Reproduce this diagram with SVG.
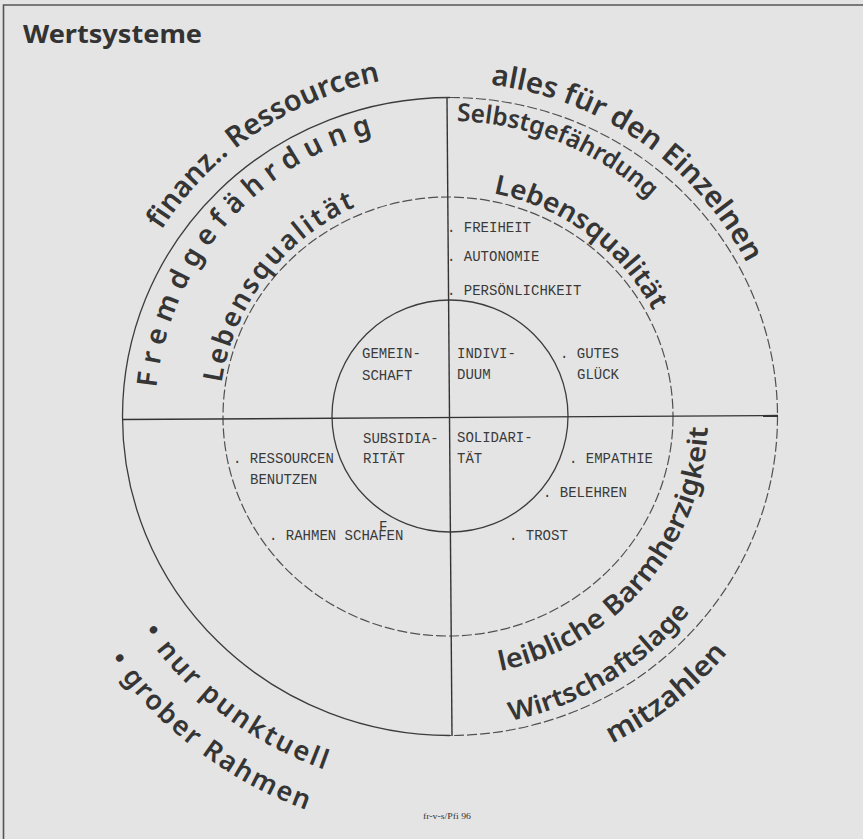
<svg xmlns="http://www.w3.org/2000/svg" xmlns:xlink="http://www.w3.org/1999/xlink" width="863" height="839" viewBox="0 0 863 839">
<style>
.bg{fill:#e4e4e4}
.frame{stroke:#555;stroke-width:1.6;fill:none}
.ring{fill:none;stroke:#3c3c3c;stroke-width:1.3}
.dash{fill:none;stroke:#505050;stroke-width:1.2;stroke-dasharray:10 3}
.axis{stroke:#333;stroke-width:1.4}
.tw{font-family:"Liberation Mono","DejaVu Sans Mono",monospace;font-size:14px;fill:#3a3a3a}
.hw{font-family:"Noto Sans","Open Sans",sans-serif;font-weight:600;fill:#353535}
.title{font-family:"Noto Sans","Open Sans",sans-serif;font-weight:700;font-size:25px;fill:#333}
.foot{font-family:"Liberation Serif",serif;font-size:9px;fill:#333}
</style>
<defs>
<path id="p-finanz" d="M161.3,230.2 A343,343 0 0 1 380.6,80.9"/>
<path id="p-fremd" d="M156.4,387.8 A294,294 0 0 1 376.4,132.1"/>
<path id="p-leben1" d="M221.6,382.6 A230,230 0 0 1 357.3,206.1"/>
<path id="p-alles" d="M490.4,84.6 A335,335 0 0 1 747.5,264.9"/>
<path id="p-selbst" d="M456.7,121.1 A296,296 0 0 1 650.9,200.5"/>
<path id="p-leben2" d="M493.3,193.3 A229,229 0 0 1 653.9,312.6"/>
<path id="p-leib" d="M500.2,670.9 A259,259 0 0 0 707.9,422.9"/>
<path id="p-wirt" d="M510.8,720.8 A310,310 0 0 0 691.6,610.0"/>
<path id="p-mitz" d="M611.9,743.6 A365,365 0 0 0 728.6,651.6"/>
<path id="p-nur" d="M142.6,631.5 A374,374 0 0 0 327.2,770.6"/>
<path id="p-grob" d="M108.7,659.7 A418,418 0 0 0 309.5,811.0"/>
</defs>
<rect class="bg" x="0" y="0" width="863" height="839"/>
<g id="frame">
<path class="frame" d="M3.5,839 V5 H863"/>
</g>
<text class="title" x="23" y="43" textLength="179" lengthAdjust="spacingAndGlyphs">Wertsysteme</text>
<g id="connectors">
<path class="ring" d="M450,97.5 A327.5,319 0 0 0 450,735.5"/>
<path class="dash" d="M450,97.5 A327.5,319 0 0 1 450,735.5"/>
<ellipse class="dash" cx="448" cy="416.5" rx="225" ry="219.5"/>
<ellipse class="ring" cx="450" cy="416" rx="118" ry="116"/>
<line class="axis" x1="447" y1="98" x2="452" y2="736"/>
<line class="axis" x1="122" y1="419.5" x2="778" y2="415.5"/>
</g>
<g id="q-top-left">
<text class="tw" x="362" y="358">GEMEIN-</text>
<text class="tw" x="362" y="380">SCHAFT</text>
<text class="hw" font-size="29"><textPath xlink:href="#p-finanz" textLength="272" lengthAdjust="spacingAndGlyphs">finanz.. Ressourcen</textPath></text>
<text class="hw" font-size="28"><textPath xlink:href="#p-fremd" textLength="355" lengthAdjust="spacing">Fremdgefährdung</textPath></text>
<text class="hw" font-size="27"><textPath xlink:href="#p-leben1" textLength="230" lengthAdjust="spacing">Lebensqualität</textPath></text>
</g>
<g id="q-top-right">
<text class="tw" x="457" y="358">INDIVI-</text>
<text class="tw" x="457" y="379">DUUM</text>
<text class="tw" x="560" y="358">. GUTES</text>
<text class="tw" x="577" y="379">GLÜCK</text>
<text class="tw" x="447" y="232">. FREIHEIT</text>
<text class="tw" x="447" y="261">. AUTONOMIE</text>
<text class="tw" x="447" y="295">. PERSÖNLICHKEIT</text>
<text class="hw" font-size="29"><textPath xlink:href="#p-alles" textLength="325" lengthAdjust="spacingAndGlyphs">alles für den Einzelnen</textPath></text>
<text class="hw" font-size="25"><textPath xlink:href="#p-selbst" textLength="212" lengthAdjust="spacingAndGlyphs">Selbstgefährdung</textPath></text>
<text class="hw" font-size="27"><textPath xlink:href="#p-leben2" textLength="205" lengthAdjust="spacingAndGlyphs">Lebensqualität</textPath></text>
</g>
<g id="q-bottom-left">
<text class="tw" x="363" y="443">SUBSIDIA-</text>
<text class="tw" x="363" y="463">RITÄT</text>
<text class="tw" x="233" y="463">. RESSOURCEN</text>
<text class="tw" x="250" y="484">BENUTZEN</text>
<text class="tw" x="269" y="540">. RAHMEN SCHAFEN</text>
<text class="tw" x="379" y="531" font-size="9px">F</text>
<text class="hw" font-size="27"><textPath xlink:href="#p-nur" textLength="232" lengthAdjust="spacing">• nur punktuell</textPath></text>
<text class="hw" font-size="27"><textPath xlink:href="#p-grob" textLength="252" lengthAdjust="spacing">• grober Rahmen</textPath></text>
</g>
<g id="q-bottom-right">
<text class="tw" x="457" y="442">SOLIDARI-</text>
<text class="tw" x="457" y="463">TÄT</text>
<text class="tw" x="569" y="463">. EMPATHIE</text>
<text class="tw" x="543" y="497">. BELEHREN</text>
<text class="tw" x="509" y="540">. TROST</text>
<text class="hw" font-size="27"><textPath xlink:href="#p-leib" textLength="345" lengthAdjust="spacingAndGlyphs">leibliche Barmherzigkeit</textPath></text>
<text class="hw" font-size="26"><textPath xlink:href="#p-wirt" textLength="214" lengthAdjust="spacingAndGlyphs">Wirtschaftslage</textPath></text>
<text class="hw" font-size="28"><textPath xlink:href="#p-mitz" textLength="148" lengthAdjust="spacingAndGlyphs">mitzahlen</textPath></text>
</g>
<text class="foot" x="423" y="819" textLength="48" lengthAdjust="spacingAndGlyphs">fr-v-s/Pfi 96</text>
</svg>
